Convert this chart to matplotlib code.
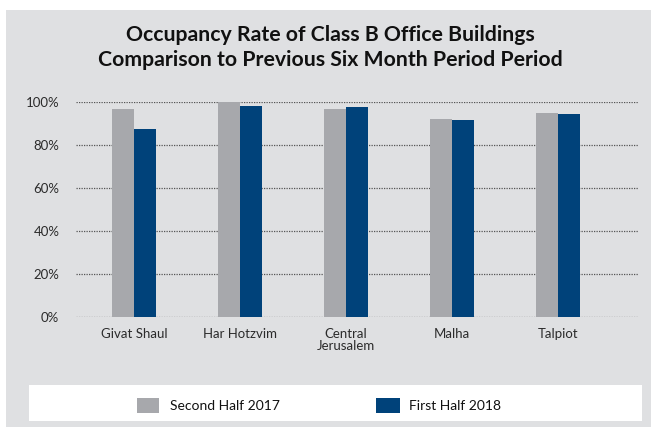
import matplotlib
matplotlib.use("Agg")
import matplotlib.pyplot as plt
from matplotlib.patches import Rectangle
import numpy as np

plt.rcParams['font.family'] = ['Lato', 'DejaVu Sans']

categories = ["Givat Shaul", "Har Hotzvim", "Central\nJerusalem", "Malha", "Talpiot"]
second_half_2017 = [96.7, 100.0, 96.7, 92.1, 94.9]
first_half_2018 = [87.4, 98.1, 97.7, 91.6, 94.4]
series_names = ["Second Half 2017", "First Half 2018"]
yticks = [0, 20, 40, 60, 80, 100]
ytick_labels = ["0%", "20%", "40%", "60%", "80%", "100%"]

c_gray = "#A7A8AC"
c_blue = "#00427A"
bg = "#DFE0E2"

W, H = 651, 428
fig = plt.figure(figsize=(W / 100, H / 100), dpi=100, facecolor="white")

# gray panel background
fig.patches.append(Rectangle((6 / W, 1 - 427 / H), (W - 6) / W, (427 - 10) / H,
                             transform=fig.transFigure, facecolor=bg, edgecolor="none", zorder=-3))
# white legend box
fig.patches.append(Rectangle((29 / W, 1 - 421 / H), (642 - 29) / W, (421 - 385) / H,
                             transform=fig.transFigure, facecolor="white", edgecolor="none", zorder=-2))

ax = fig.add_axes([76 / W, 1 - 317 / H, (639 - 76) / W, (317 - 102) / H])
ax.set_facecolor("none")
ax.set_zorder(1)

x = np.arange(len(categories))
bw = 0.207
ax.bar(x - bw / 2, second_half_2017, width=bw, color=c_gray, zorder=3, clip_on=False)
ax.bar(x + bw / 2, first_half_2018, width=bw, color=c_blue, zorder=3, clip_on=False)

ax.set_xlim(-0.547, 4.764)
ax.set_ylim(0, 100)
ax.set_yticks(yticks)
ax.set_yticklabels(ytick_labels)
ax.set_xticks(x)
ax.set_xticklabels(categories, linespacing=0.95)
ax.tick_params(axis="both", length=0, colors="#2b2b2b", labelsize=9.5)
ax.tick_params(axis="y", pad=12)
ax.tick_params(axis="x", pad=8)
for s in ax.spines.values():
    s.set_visible(False)
ax.yaxis.grid(True, linestyle=(0, (1, 1)), color="#555555", linewidth=0.9, zorder=1)
ax.set_axisbelow(True)

# title
fig.text(0.507, 1 - 40.7 / H, "Occupancy Rate of Class B Office Buildings",
         ha="center", va="baseline", fontsize=15.3, fontweight="bold", color="#111111")
fig.text(0.507, 1 - 65.7 / H, "Comparison to Previous Six Month Period Period",
         ha="center", va="baseline", fontsize=15.3, fontweight="bold", color="#111111")

# legend
for (x0, x1, col, tx, name) in [(137, 159, c_gray, 170, series_names[0]),
                                (376, 400, c_blue, 409, series_names[1])]:
    fig.patches.append(Rectangle((x0 / W, 1 - 413 / H), (x1 - x0) / W, 15 / H,
                                 transform=fig.transFigure, facecolor=col, edgecolor="none", zorder=2))
    fig.text(tx / W, 1 - 410 / H, name, ha="left", va="baseline", fontsize=10, color="#111111")

fig.savefig("out.png", dpi=100, facecolor="white")
